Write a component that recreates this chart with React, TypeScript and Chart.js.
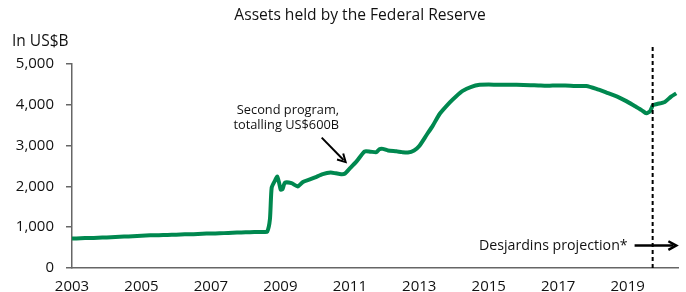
import React, { useEffect, useRef } from "react";
import { Chart, registerables } from "chart.js";

Chart.register(...registerables);

const years: number[] = [
  2003.0, 2003.25, 2003.5, 2003.75, 2004.0, 2004.25, 2004.5, 2004.75,
  2005.0, 2005.25, 2005.5, 2005.75, 2006.0, 2006.25, 2006.5, 2006.75,
  2007.0, 2007.25, 2007.5, 2007.75, 2008.0, 2008.25, 2008.5, 2008.62,
  2008.7, 2008.75, 2008.85, 2008.91, 2008.96, 2009.01, 2009.06, 2009.13,
  2009.32, 2009.5, 2009.65, 2009.85, 2010.0, 2010.22, 2010.45, 2010.6,
  2010.75, 2010.85, 2011.0, 2011.2, 2011.43, 2011.6, 2011.77, 2011.85,
  2011.95, 2012.1, 2012.34, 2012.5, 2012.67, 2012.85, 2013.0, 2013.21,
  2013.39, 2013.59, 2013.88, 2014.05, 2014.25, 2014.5, 2014.74, 2015.0,
  2015.4, 2015.8, 2016.2, 2016.5, 2016.84, 2017.2, 2017.5, 2017.81,
  2018.1, 2018.39, 2018.7, 2018.96, 2019.2, 2019.4, 2019.54, 2019.65,
  2019.73, 2019.85, 2020.07, 2020.25, 2020.4,
];

const assets: number[] = [
  720, 730, 735, 740, 750, 760, 770, 780,
  790, 800, 805, 810, 815, 825, 830, 840,
  845, 850, 860, 870, 875, 880, 885, 890,
  1200, 1970, 2150, 2240, 2100, 1920, 1930, 2090,
  2080, 2000, 2110, 2170, 2220, 2300, 2340, 2320,
  2300, 2310, 2440, 2620, 2860, 2850, 2840, 2910,
  2920, 2880, 2860, 2840, 2830, 2880, 2990, 3260,
  3490, 3780, 4060, 4200, 4340, 4440, 4490, 4500,
  4490, 4490, 4480, 4470, 4470, 4470, 4460, 4460,
  4390, 4300, 4200, 4090, 3970, 3870, 3790, 3850,
  3990, 4020, 4070, 4200, 4280,
];

const xTicks: number[] = [2003, 2005, 2007, 2009, 2011, 2013, 2015, 2017, 2019];
const yTicks: number[] = [0, 1000, 2000, 3000, 4000, 5000];

const title = "Assets held by the Federal Reserve";
const yUnit = "In US$B";
const noteLines: string[] = ["Second program,", "totalling US$600B"];
const projectionLabel = "Desjardins projection*";
const projectionStart = 2019.72;
const xMin = 2003;
const xMax = 2020.45;

const FONT = "'Open Sans', sans-serif";

function arrow(ctx: CanvasRenderingContext2D, x1: number, y1: number, x2: number, y2: number) {
  const ang = Math.atan2(y2 - y1, x2 - x1);
  const hl = 9;
  ctx.lineCap = "butt";
  ctx.beginPath();
  ctx.moveTo(x1, y1);
  ctx.lineTo(x2 - Math.cos(ang) * 3, y2 - Math.sin(ang) * 3);
  ctx.stroke();
  ctx.lineJoin = "miter";
  ctx.beginPath();
  ctx.moveTo(x2 - hl * Math.cos(ang - 0.5), y2 - hl * Math.sin(ang - 0.5));
  ctx.lineTo(x2, y2);
  ctx.lineTo(x2 - hl * Math.cos(ang + 0.5), y2 - hl * Math.sin(ang + 0.5));
  ctx.stroke();
}

const overlay = {
  id: "overlay",
  afterDraw(chart: any) {
    const { ctx, chartArea, scales } = chart;
    const xs = scales.x;
    const ys = scales.y;
    ctx.save();
    // title
    ctx.fillStyle = "#111";
    ctx.font = `15.6px ${FONT}`;
    ctx.textAlign = "center";
    ctx.textBaseline = "middle";
    ctx.fillText(title, 360, 16);
    // unit
    ctx.textAlign = "left";
    ctx.font = `15.5px ${FONT}`;
    ctx.fillText(yUnit, 12, 42);
    // dashed projection line
    const px = xs.getPixelForValue(projectionStart);
    ctx.strokeStyle = "#000";
    ctx.lineWidth = 2;
    ctx.setLineDash([4, 3]);
    ctx.beginPath();
    ctx.moveTo(px, chartArea.top - 17);
    ctx.lineTo(px, chartArea.bottom);
    ctx.stroke();
    ctx.setLineDash([]);
    // note
    ctx.font = `12.8px ${FONT}`;
    ctx.textAlign = "right";
    const nx = xs.getPixelForValue(2010.69);
    ctx.fillText(noteLines[0], nx, ys.getPixelForValue(3875));
    ctx.fillText(noteLines[1], nx, ys.getPixelForValue(3505));
    ctx.lineWidth = 2;
    arrow(ctx, xs.getPixelForValue(2010.19), ys.getPixelForValue(3195), xs.getPixelForValue(2010.88), ys.getPixelForValue(2596));
    // projection label
    ctx.font = `14.2px ${FONT}`;
    const py = ys.getPixelForValue(550);
    ctx.fillText(projectionLabel, xs.getPixelForValue(2019.0), py);
    ctx.lineWidth = 2.5;
    arrow(ctx, xs.getPixelForValue(2019.2), py, xs.getPixelForValue(2020.4), py);
    ctx.restore();
  },
};

export default function App() {
  const ref = useRef<HTMLCanvasElement | null>(null);
  useEffect(() => {
    if (!ref.current) return;
    const chart = new Chart(ref.current, {
      type: "line",
      data: {
        datasets: [
          {
            data: years.map((y, i) => ({ x: y, y: assets[i] })),
            borderColor: "#00884f",
            borderWidth: 4,
            pointRadius: 0,
            tension: 0.2,
            fill: false,
          },
        ],
      },
      options: {
        animation: false,
        responsive: false,
        maintainAspectRatio: false,
        layout: { padding: { top: 64, left: 0, right: 8, bottom: 0 } },
        plugins: { legend: { display: false }, tooltip: { enabled: false }, title: { display: false } },
        scales: {
          x: {
            type: "linear",
            min: xMin,
            max: xMax,
            afterBuildTicks: (s: any) => {
              s.ticks = xTicks.map((v) => ({ value: v }));
            },
            afterFit: (s: any) => {
              s.height = 24;
            },
            grid: { display: false },
            border: { display: true, color: "#666", width: 1.5 },
            ticks: {
              color: "#111",
              font: { family: FONT, size: 15 },
              padding: 2,
              maxRotation: 0,
              autoSkip: false,
              callback: (v: any) => String(v),
            },
          },
          y: {
            min: 0,
            max: 5000,
            afterBuildTicks: (s: any) => {
              s.ticks = yTicks.map((v) => ({ value: v }));
            },
            afterFit: (s: any) => {
              s.width = 72;
            },
            grid: { display: true, drawOnChartArea: false, tickLength: 6, color: "#666", lineWidth: 1.5 },
            border: { display: true, color: "#666", width: 1.5 },
            ticks: {
              color: "#111",
              font: { family: FONT, size: 15 },
              padding: 12,
              callback: (v: any) => Number(v).toLocaleString("en-US"),
            },
          },
        },
      },
      plugins: [overlay],
    });
    return () => chart.destroy();
  }, []);
  return (
    <div style={{ position: "fixed", left: 0, top: 0, width: 686, height: 292, background: "#fff" }}>
      <canvas ref={ref} width={686} height={292} style={{ width: 686, height: 292 }} />
    </div>
  );
}
